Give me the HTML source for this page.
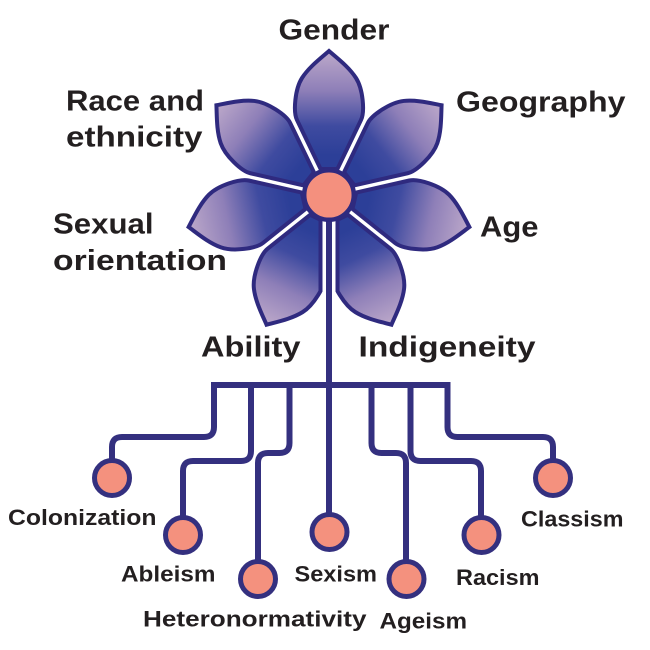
<!DOCTYPE html>
<html>
<head>
<meta charset="utf-8">
<style>
  html, body { margin: 0; padding: 0; background: #ffffff; }
  svg { display: block; }
  text { font-family: "Liberation Sans", "DejaVu Sans", sans-serif; font-weight: 700; fill: #231f20; }
</style>
</head>
<body>
<svg width="650" height="650" viewBox="0 0 650 650" xmlns="http://www.w3.org/2000/svg">
  <defs>
    <linearGradient id="g" gradientUnits="userSpaceOnUse" x1="0" y1="-144" x2="0" y2="-40">
      <stop offset="0" stop-color="#bda9ca"/>
      <stop offset="0.38" stop-color="#8e7fb8"/>
      <stop offset="0.72" stop-color="#3f4ba0"/>
      <stop offset="1" stop-color="#2c3f98"/>
    </linearGradient>
    <path id="p" d="M8.4,-26 L32,-75 C36,-83.3 34,-106 27,-117 C20,-128 8,-137 0,-144 C-8,-137 -20,-128 -27,-117 C-34,-106 -36,-83.3 -32,-75 L-8.4,-26 Z"/>
    <clipPath id="pc">
      <use href="#p" transform="translate(329,195) rotate(154.29)"/>
      <use href="#p" transform="translate(329,195) rotate(205.71)"/>
    </clipPath>
  </defs>

  <!-- tree lines -->
  <g fill="none" stroke="#34307f" stroke-width="6" stroke-linejoin="miter">
    <path d="M112,478 L112,447 Q112,437 122,437 L204,437 Q214,437 214,427 L214,385 L447.5,385 L447.5,427 Q447.5,437 457.5,437 L543,437 Q553,437 553,447 L553,478"/>
    <path d="M251,385 L251,451 Q251,461 241,461 L193,461 Q183,461 183,471 L183,535"/>
    <path d="M289.5,385 L289.5,443 Q289.5,453 279.5,453 L268,453 Q258,453 258,463 L258,579"/>
    <path d="M371.5,385 L371.5,443 Q371.5,453 381.5,453 L396,453 Q406,453 406,463 L406,579"/>
    <path d="M410.5,385 L410.5,451 Q410.5,461 420.5,461 L471,461 Q481,461 481,471 L481,535"/>
  </g>

  <!-- petals -->
  <g transform="translate(329,195)" fill="url(#g)" stroke="#2f2a7f" stroke-width="4" stroke-linejoin="miter">
    <use href="#p" transform="rotate(0)"/>
    <use href="#p" transform="rotate(51.43)"/>
    <use href="#p" transform="rotate(102.86)"/>
    <use href="#p" transform="rotate(154.29)"/>
    <use href="#p" transform="rotate(205.71)"/>
    <use href="#p" transform="rotate(257.14)"/>
    <use href="#p" transform="rotate(308.57)"/>
  </g>

  <!-- stem through the lower petals -->
  <rect x="318.5" y="200" width="21" height="140" fill="#2f2a7f" clip-path="url(#pc)"/>
  <rect x="322.5" y="212" width="13" height="120" fill="#ffffff"/>
  <line x1="329" y1="195" x2="329" y2="532" stroke="#34307f" stroke-width="6"/>

  <!-- flower center -->
  <circle cx="329" cy="195" r="24.8" fill="#f4907e" stroke="#2f2a7f" stroke-width="4.5"/>

  <!-- leaf circles -->
  <g fill="#f4917e" stroke="#34307f" stroke-width="5">
    <circle cx="112" cy="478" r="17.5"/>
    <circle cx="183" cy="535" r="17.5"/>
    <circle cx="258" cy="579" r="17.5"/>
    <circle cx="329.5" cy="532" r="17.5"/>
    <circle cx="406.5" cy="579" r="17.5"/>
    <circle cx="481.5" cy="535" r="17.5"/>
    <circle cx="553" cy="478" r="17.5"/>
  </g>

  <!-- top labels -->
  <g font-size="28.5">
    <text x="278.5" y="39.3" font-size="29" textLength="111" lengthAdjust="spacingAndGlyphs">Gender</text>
    <text x="66" y="110.7" textLength="138" lengthAdjust="spacingAndGlyphs">Race and</text>
    <text x="66" y="146.7" textLength="136.5" lengthAdjust="spacingAndGlyphs">ethnicity</text>
    <text x="456" y="111.7" textLength="169.5" lengthAdjust="spacingAndGlyphs">Geography</text>
    <text x="480" y="236.7" textLength="58.5" lengthAdjust="spacingAndGlyphs">Age</text>
    <text x="53" y="233.3" textLength="100.5" lengthAdjust="spacingAndGlyphs">Sexual</text>
    <text x="53" y="270" textLength="174" lengthAdjust="spacingAndGlyphs">orientation</text>
    <text x="201" y="356.7" textLength="99.5" lengthAdjust="spacingAndGlyphs">Ability</text>
    <text x="358.5" y="356.7" textLength="177" lengthAdjust="spacingAndGlyphs">Indigeneity</text>
  </g>

  <!-- bottom labels -->
  <g font-size="22.5">
    <text x="8" y="525" textLength="148.5" lengthAdjust="spacingAndGlyphs">Colonization</text>
    <text x="121" y="581.7" textLength="94.5" lengthAdjust="spacingAndGlyphs">Ableism</text>
    <text x="143" y="626.7" textLength="223.5" lengthAdjust="spacingAndGlyphs">Heteronormativity</text>
    <text x="294.5" y="581.7" textLength="82.5" lengthAdjust="spacingAndGlyphs">Sexism</text>
    <text x="379.5" y="628.3" textLength="87.5" lengthAdjust="spacingAndGlyphs">Ageism</text>
    <text x="456" y="585" textLength="83.5" lengthAdjust="spacingAndGlyphs">Racism</text>
    <text x="521" y="526.7" textLength="102.5" lengthAdjust="spacingAndGlyphs">Classism</text>
  </g>
</svg>
</body>
</html>
